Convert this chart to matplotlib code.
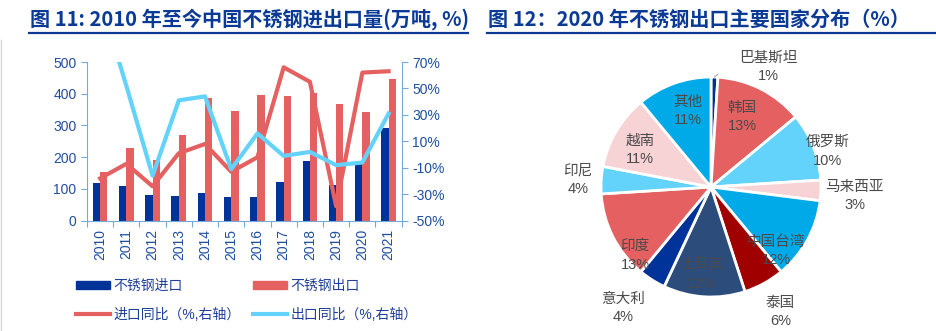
import matplotlib.pyplot as plt
import numpy as np
from matplotlib.patches import Patch
from matplotlib.lines import Line2D

plt.rcParams['font.family'] = ['Liberation Sans', 'Noto Sans CJK SC']

# 左图数据：2010-2021 不锈钢进出口量（万吨）与同比（%）
years = [str(y) for y in range(2010, 2022)]
imports = [118, 108, 81, 79, 86, 75, 74, 121, 187, 112, 181, 293]
exports = [152, 228, 191, 270, 386, 346, 397, 394, 401, 368, 343, 446]
import_yoy = [-18, -7, -24, 1, 8, -13, -2, 66, 55, -39, 62, 63]
export_yoy = [118, 52, -16, 41, 44, -11, 16, -1, 2, -8, -6, 31]

# 右图数据：2020 年不锈钢出口主要国家分布（%）
countries = ['巴基斯坦', '韩国', '俄罗斯', '马来西亚', '中国台湾', '泰国',
             '土耳其', '意大利', '印度', '印尼', '越南', '其他']
shares = [1, 13, 10, 3, 12, 6, 12, 4, 13, 4, 11, 11]

navy = '#003399'
salmon = '#E56161'
cyan = '#64D3FC'
tick_blue = '#1F4E9E'
spine_blue = '#74A9DA'
title_blue = '#0A3A96'

fig = plt.figure(figsize=(9.37, 3.31), dpi=100)

# 标题与下划线
title_font = ['Noto Sans CJK SC', 'DejaVu Sans']
fig.text(30 / 937, 1 - 19 / 331, '图 11: 2010 年至今中国不锈钢进出口量(万吨, %)',
         fontsize=14.5, fontweight='bold', color=title_blue, va='center', ha='left',
         family=title_font)
fig.text(488 / 937, 1 - 19 / 331, '图 12：2020 年不锈钢出口主要国家分布（%）',
         fontsize=14.5, fontweight='bold', color=title_blue, va='center', ha='left',
         family=title_font)
fig.add_artist(Line2D([29 / 937, 468 / 937], [1 - 33 / 331] * 2, color=title_blue, lw=1.6))
fig.add_artist(Line2D([487 / 937, 935 / 937], [1 - 33 / 331] * 2, color=title_blue, lw=1.6))
fig.add_artist(Line2D([1.5 / 937] * 2, [0, 1 - 40 / 331], color='#D9D9D9', lw=1))

# 左图：柱状 + 折线
ax = fig.add_axes([87 / 937, 1 - 220.7 / 331, 314.7 / 937, 158.7 / 331])
x = np.arange(len(years))
w = 0.28
ax.bar(x - w / 2, imports, width=w, color=navy, zorder=2)
ax.bar(x + w / 2, exports, width=w, color=salmon, zorder=2)
ax.set_ylim(0, 500)
ax.set_yticks(range(0, 501, 100))
ax.set_xlim(-0.5, len(years) - 0.5)
ax.set_xticks(np.arange(-0.5, len(years), 1))
ax.set_xticklabels([])
ax.set_xticks(x, minor=True)
ax.set_xticklabels(years, minor=True, rotation=90)
ax.tick_params(axis='x', which='major', length=4, color=spine_blue, direction='out')
ax.tick_params(axis='x', which='minor', length=0, pad=6, labelsize=10, labelcolor=tick_blue)
ax.tick_params(axis='y', length=4, color=spine_blue, labelsize=10, labelcolor=tick_blue)
for s in ['top', 'right']:
    ax.spines[s].set_visible(False)
for s in ['left', 'bottom']:
    ax.spines[s].set_color(spine_blue)

ax2 = ax.twinx()
ax2.plot(x, import_yoy, color=salmon, lw=3, zorder=3)
ax2.plot(x, export_yoy, color=cyan, lw=3, zorder=3)
ax2.set_ylim(-50, 70)
ax2.set_yticks(range(-50, 71, 20))
ax2.set_yticklabels([f'{v}%' for v in range(-50, 71, 20)])
ax2.tick_params(axis='y', length=4, color=spine_blue, labelsize=10, labelcolor=tick_blue)
for s in ['top', 'left', 'bottom']:
    ax2.spines[s].set_visible(False)
ax2.spines['right'].set_color(spine_blue)

handles = [Patch(color=navy), Patch(color=salmon),
           Line2D([], [], color=salmon, lw=3), Line2D([], [], color=cyan, lw=3)]
labels = ['不锈钢进口', '不锈钢出口', '进口同比（%,右轴）', '出口同比（%,右轴）']
leg = fig.legend([handles[0], handles[2], handles[1], handles[3]],
                 [labels[0], labels[2], labels[1], labels[3]],
                 ncol=2, loc='upper left', bbox_to_anchor=(76 / 937, 1 - 279 / 331),
                 frameon=False, fontsize=10, handlelength=2.45, handleheight=0.55,
                 handletextpad=0.25, columnspacing=0.9, labelspacing=1.05,
                 borderaxespad=0, borderpad=0)
for t in leg.get_texts():
    t.set_color('#1F3F9A')

# 右图：饼图
R = 110
half = 130
cx, cy = 711, 187
pax = fig.add_axes([(cx - half) / 937, 1 - (cy + half) / 331, 2 * half / 937, 2 * half / 331])
colors = ['#002F8E', salmon, cyan, '#F8D3D6', '#00A9E8', '#A00000',
          '#2C4C7C', navy, salmon, cyan, '#F8D3D6', '#00A9E8']
wedges, _ = pax.pie(shares, colors=colors, startangle=90, counterclock=False,
                    radius=1, wedgeprops=dict(edgecolor='white', linewidth=2))
lim = half / R
pax.set_xlim(-lim, lim)
pax.set_ylim(-lim, lim)
pax.set_aspect('auto')
pax.axis('off')

# 标签位置（半径倍数, 角度）
label_pos = [None, (0.70, 66), (1.11, 17), (1.31, -3.6), (0.83, -44.5), (1.30, -61),
             (0.80, -96), (1.36, -126), (0.93, -138), (1.21, 177), (0.73, 152.5),
             (0.72, 106.8)]
label_color = '#4A4A4A'
for i, (name, v) in enumerate(zip(countries, shares)):
    txt = f'{name}\n{v}%'
    if label_pos[i] is None:
        wdg = wedges[i]
        mid = np.deg2rad((wdg.theta1 + wdg.theta2) / 2)
        pax.annotate(txt, xy=(np.cos(mid) * 1.0, np.sin(mid) * 1.0),
                     xytext=(0.52, 1.09), ha='center', va='center', fontsize=10.5,
                     color=label_color, linespacing=1.4, annotation_clip=False,
                     arrowprops=dict(arrowstyle='-', color='#A6A6A6', lw=0.8,
                                     shrinkA=14, shrinkB=0,
                                     connectionstyle='angle,angleA=0,angleB=40,rad=0'))
        continue
    rf, ang = label_pos[i]
    a = np.deg2rad(ang)
    pax.text(rf * np.cos(a), rf * np.sin(a), txt, ha='center', va='center',
             fontsize=10.5, color=label_color, linespacing=1.4)

fig.savefig('out.png', dpi=100)
